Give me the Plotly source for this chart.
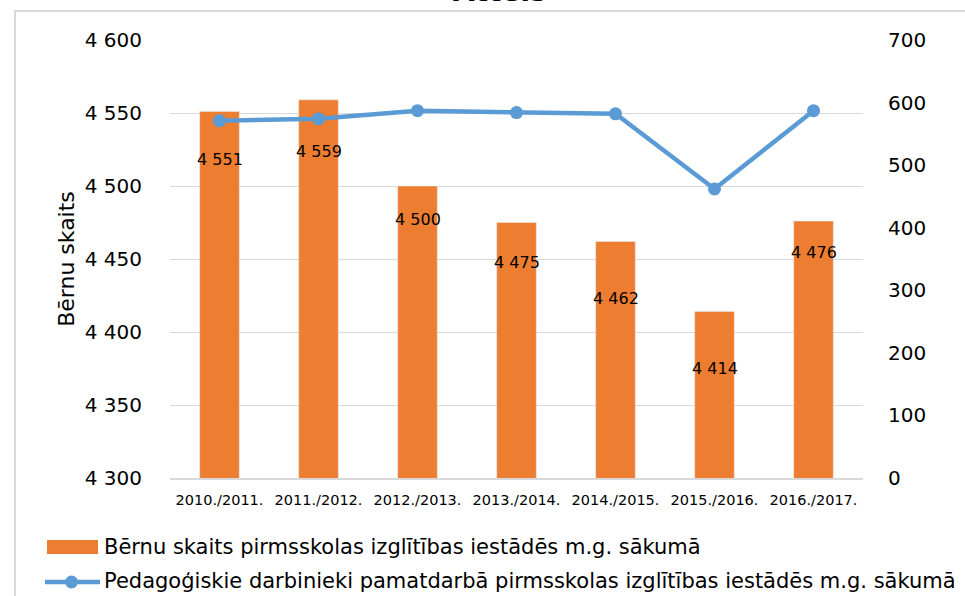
import plotly.graph_objects as go

categories = ["2010./2011.", "2011./2012.", "2012./2013.", "2013./2014.",
              "2014./2015.", "2015./2016.", "2016./2017."]
children = [4551, 4559, 4500, 4475, 4462, 4414, 4476]
teachers = [571, 574, 587, 584, 582, 462, 587]

bar_name = "Bērnu skaits pirmsskolas izglītības iestādēs m.g. sākumā"
line_name = "Pedagoģiskie darbinieki pamatdarbā pirmsskolas izglītības iestādēs m.g. sākumā"
y_title = "Bērnu skaits"
title_text = "Attēls"

# label offsets (style, px below bar top)
label_shift = [-48, -52, -33, -40, -57, -57, -31]

W, H = 965, 596
L, R, T, B = 170, 102, 40, 118
PW, PH = W - L - R, H - T - B

def px(x):
    return (x - L) / PW

def py(y):
    return (H - B - y) / PH

ORANGE = "#ed7d31"
BLUE = "#5b9bd5"
FONT = "DejaVu Sans"

fig = go.Figure()
fig.add_trace(go.Bar(x=categories, y=children, marker_color=ORANGE,
                     name=bar_name, yaxis="y", showlegend=False))
fig.add_trace(go.Scatter(x=categories, y=teachers, mode="lines+markers",
                         line=dict(color=BLUE, width=4.5),
                         marker=dict(color=BLUE, size=13),
                         name=line_name, yaxis="y2", showlegend=False))

annotations = []
for c, v, s in zip(categories, children, label_shift):
    annotations.append(dict(x=c, y=v, xref="x", yref="y", yshift=s,
                            text=f"{v:,}".replace(",", " "), showarrow=False,
                            font=dict(family=FONT, size=16, color="#000000")))

# title (cut at top, as in reference)
annotations.append(dict(x=px(500), y=py(10), xref="paper", yref="paper",
                        xanchor="center", yanchor="bottom", text=f"<b>{title_text}</b>",
                        showarrow=False, font=dict(family=FONT, size=28, color="#000")))

# custom legend texts
annotations.append(dict(x=px(102), y=py(547), xref="paper", yref="paper",
                        xanchor="left", yanchor="middle", text=bar_name, showarrow=False,
                        font=dict(family=FONT, size=21, color="#000")))
annotations.append(dict(x=px(102), y=py(581), xref="paper", yref="paper",
                        xanchor="left", yanchor="middle", text=line_name, showarrow=False,
                        font=dict(family=FONT, size=21, color="#000")))

shapes = [
    # outer frame
    dict(type="rect", xref="paper", yref="paper", x0=px(15), x1=px(975),
         y0=py(610), y1=py(11), line=dict(color="#d9d9d9", width=2), layer="below"),
    # legend symbols
    dict(type="rect", xref="paper", yref="paper", x0=px(47), x1=px(98),
         y0=py(554), y1=py(540), fillcolor=ORANGE, line=dict(width=0)),
    dict(type="line", xref="paper", yref="paper", x0=px(45), x1=px(100),
         y0=py(582), y1=py(582), line=dict(color=BLUE, width=4.5)),
    dict(type="circle", xref="paper", yref="paper", x0=px(65), x1=px(78),
         y0=py(588.5), y1=py(575.5), fillcolor=BLUE, line=dict(width=0)),
]

fig.update_layout(
    width=W, height=H,
    margin=dict(l=L, r=R, t=T, b=B),
    paper_bgcolor="white", plot_bgcolor="white",
    separators=", ",
    bargap=0.6,
    font=dict(family=FONT, color="#000"),
    xaxis=dict(type="category", showgrid=False, showline=True, linecolor="#d9d9d9",
               linewidth=1.5, ticks="outside", ticklen=8, tickcolor="rgba(0,0,0,0)",
               tickfont=dict(family=FONT, size=14.5, color="#000")),
    yaxis=dict(range=[4300, 4600], dtick=50, tickformat=",d", showgrid=True,
               gridcolor="#d9d9d9", gridwidth=1, zeroline=False,
               ticks="outside", ticklen=23, tickcolor="rgba(0,0,0,0)",
               tickfont=dict(family=FONT, size=20, color="#000"),
               title=dict(text=y_title, font=dict(family=FONT, size=22, color="#000"),
                          standoff=4)),
    yaxis2=dict(range=[0, 700], dtick=100, overlaying="y", side="right",
                showgrid=False, zeroline=False,
                ticks="outside", ticklen=20, tickcolor="rgba(0,0,0,0)",
                tickfont=dict(family=FONT, size=20, color="#000")),
    annotations=annotations,
    shapes=shapes,
    showlegend=False,
)

fig.write_html("out.html", config={"displayModeBar": False},
               post_script="document.body.style.margin='0';document.body.style.overflow='hidden';")
